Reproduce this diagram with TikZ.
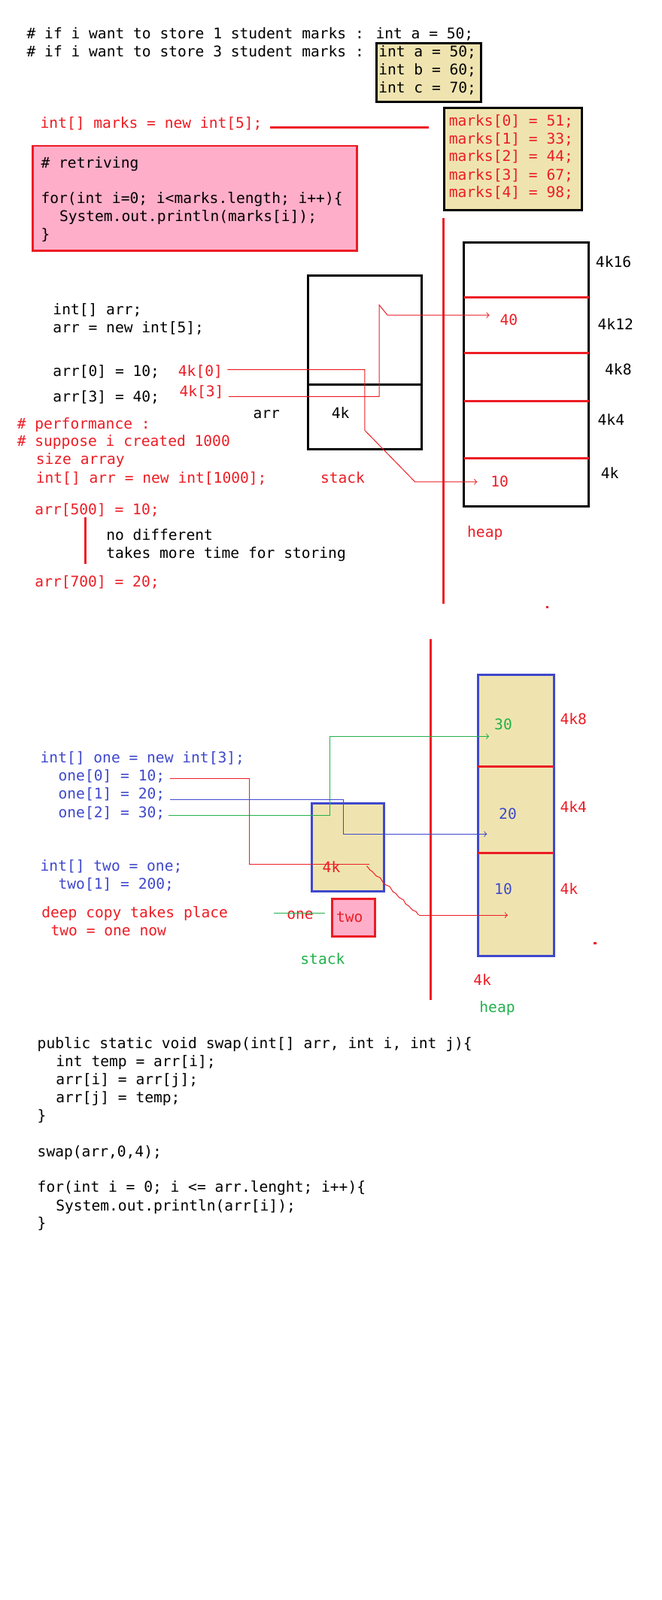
\documentclass[tikz,border=0pt]{standalone}
\usepackage{fontspec}
\newfontfamily\codefont{DejaVu Sans Mono}
\usepackage{tikz}
\usetikzlibrary{arrows}
\usetikzlibrary{calc}
\usetikzlibrary{decorations.pathmorphing}

\definecolor{paintred}{HTML}{ED1C24}
\definecolor{painttan}{HTML}{EFE4B0}
\definecolor{paintpink}{HTML}{FFAEC9}
\definecolor{paintblue}{HTML}{3F48CC}
\definecolor{paintgreen}{HTML}{22B14C}

\begin{document}
\begin{tikzpicture}[x=0.678pt, y=-0.672pt,
		code/.style={anchor=base west, inner sep=0pt, font=\codefont\fontsize{9.8}{11.8}\selectfont},
		wall/.style={line width=1.5pt},
		wire/.style={line width=0.5pt},
		redline/.style={paintred, line width=1.5pt}]

		% page
		\fill[white] (0,0) rectangle (649,1584);
		\useasboundingbox (0,0) rectangle (649,1584);

		% ---------- variables vs array ----------
		\node[code] (one) at (26,38.5) {\# if i want to store 1 student marks : int a = 50;};
		\node[code] (three) at (26,56.4) {\# if i want to store 3 student marks :};
		\draw[wall, fill=painttan] (369,42.7) rectangle (472,100.5);
		\node[code] (va) at (371,56.4) {int a = 50;};
		\node[code] (vb) at (371,74) {int b = 60;};
		\node[code] (vc) at (371,91.8) {int c = 70;};

		\node[code, paintred] (marks) at (39.3,127) {int[] marks = new int[5];};
		\draw[wall, fill=painttan] (436,106.7) rectangle (570.6,208.4);
		\foreach \i/\y/\v in {0/124.6/51, 1/142.2/33, 2/160/44, 3/177.9/67, 4/195.5/98}
			\node[code, paintred] (m\i) at (440,\y) {marks[\i] = \v;};
		\coordinate (marksend) at (420.5,126);
		\draw[redline] ([xshift=5pt]marks.east |- marksend) -- (marksend);

		% retriving
		\draw[redline, fill=paintpink] (31.8,144.4) rectangle (350,248.6);
		\node[code] (ret) at (40,166.3) {\# retriving};
		\node[code] (forl) at (40,201.5) {for(int i=0; i<marks.length; i++)\{};
		\node[code] (prnt) at (58,218.9) {System.out.println(marks[i]);};
		\node[code] (endl) at (40,237) {\}};

		% ---------- stack / heap 1 ----------
		\draw[redline] (435,215.8) -- (435,597.4);

		\draw[wall] (302,273) rectangle (413.5,444.6);
		\draw[wall] (302,380.6) -- (413.5,380.6);
		\node[code] (arrlbl) at (248,414.4) {arr};
		\node[code] (arrref) at (325,414.4) {4k};

		\draw[wall] (455,240) rectangle (577.6,501);
		\foreach \y in {294.5, 349.3, 397, 453.5}
			\draw[redline] (455,\y) -- (577.6,\y);
		\foreach \n/\x/\y/\t in {a/584/264.3/4k16, b/586/326.3/4k12, c/593/371/4k8, d/586/421.3/4k4, e/589/474/4k}
			\node[code] (addr\n) at (\x,\y) {\t};
		\node[code, paintred] (forty) at (490,322) {40};
		\node[code, paintred] (ten) at (481,482) {10};

		\node[code] (decl) at (51.7,311.4) {int[] arr;};
		\node[code] (alloc) at (51.7,329.5) {arr = new int[5];};
		\node[code] (set0) at (51.7,372.2) {arr[0] = 10;};
		\node[code, paintred] (k0) at (174.5,372.2) {4k[0]};
		\node[code] (set3) at (51.7,397.7) {arr[3] = 40;};
		\node[code, paintred] (k3) at (175.7,393) {4k[3]};

		% pointers
		\coordinate (p0) at (357.7,366);
		\coordinate (q0) at (357.7,426);
		\coordinate (r0) at (407,477);
		\draw[wire, paintred, ->] ([xshift=3pt]k0.east |- p0) -- (p0) -- (q0) -- (r0) -- (468,477);
		\coordinate (p3) at (372,392.5);
		\coordinate (q3) at (372,302);
		\coordinate (r3) at (380,312);
		\draw[wire, paintred, ->] ([xshift=3pt]k3.east |- p3) -- (p3) -- (q3) -- (r3) -- (480,312);

		% performance
		\node[code, paintred] (perf) at (16.5,425) {\# performance :};
		\node[code, paintred] (supp) at (16.5,442) {\# suppose i created 1000};
		\node[code, paintred] (size) at (35,460) {size array};
		\node[code, paintred] (big) at (35,478.4) {int[] arr = new int[1000];};
		\node[code, paintred] (stk) at (314,478.4) {stack};
		\node[code, paintred] (hp) at (458,532.2) {heap};
		\node[code, paintred] (a500) at (34,509.5) {arr[500] = 10;};
		\node[code, paintred] (a700) at (34,581) {arr[700] = 20;};
		\draw[redline] (84,512) -- (84,558);
		\node[code] (nodiff) at (104,534.7) {no different};
		\node[code] (takes) at (104,552.8) {takes more time for storing};
		\fill[paintred] (535.7,600) rectangle (537.7,602);

		% ---------- stack / heap 2 ----------
		\draw[redline] (422.6,632.7) -- (422.6,990);

		\draw[wall, paintblue, fill=painttan] (468.5,667.9) rectangle (543,946.2);
		\foreach \y in {758.7, 844.3}
			\draw[redline] (468.5,\y) -- (543,\y);
		\node[code, paintgreen] (v30) at (484.6,722.5) {30};
		\node[code, paintblue] (v20) at (489,811.3) {20};
		\node[code, paintblue] (v10) at (484.6,885.7) {10};
		\foreach \n/\y/\t in {a/717.5/4k8, b/803.9/4k4, c/885.7/4k}
			\node[code, paintred] (haddr\n) at (549,\y) {\t};
		\node[code, paintred] (hbase) at (464,975.6) {4k};
		\node[code, paintgreen] (hp2) at (470,1002.4) {heap};

		\draw[wall, paintblue, fill=painttan] (306,795.7) rectangle (377,882.5);
		\node[code, paintred] (ref2) at (316,864) {4k};
		\draw[redline, fill=paintpink] (325.4,889.5) rectangle (368,927.4);
		\node[code, paintred] (two) at (329.6,913) {two};
		\node[code, paintred] (oneold) at (281,909.8) {one};
		\draw[wire, paintgreen] (268.8,904.3) -- (318.4,904.3);
		\node[code, paintgreen] (stk2) at (294.4,954.7) {stack};
		\fill[paintred] (582,933) rectangle (585,935);

		\node[code, paintblue] (newone) at (39.3,755.5) {int[] one = new int[3];};
		\node[code, paintblue] (o0) at (57,773.3) {one[0] = 10;};
		\node[code, paintblue] (o1) at (57,791) {one[1] = 20;};
		\node[code, paintblue] (o2) at (57,809.4) {one[2] = 30;};
		\node[code, paintblue] (newtwo) at (39.3,862.2) {int[] two = one;};
		\node[code, paintblue] (t1) at (57,880.3) {two[1] = 200;};
		\node[code, paintred] (deep) at (40.5,908.6) {deep copy takes place};
		\node[code, paintred] (now) at (49.6,926.7) {two = one now};

		% pointers
		\draw[wire, paintgreen, ->] ([xshift=2pt]o2.east |- 0,807.6) -- (323.4,807.6) -- (323.4,729) -- (479.7,729);
		\draw[wire, paintblue, ->] ([xshift=3pt]o1.east |- 0,791.4) -- (337,791.4) -- (337,825.7) -- (477.6,825.7);
		\draw[wire, paintred] ([xshift=3pt]o0.east |- 0,770.9) -- (244.8,770.9) -- (244.8,855.6) -- (362.6,855.6);
		\draw[wire, paintred, decorate, decoration={random steps, segment length=3pt, amplitude=0.6pt}] (359.7,857.2) -- (410.6,906);
		\draw[wire, paintred, ->] (410.6,906) -- (498,906);

		% ---------- swap ----------
		\node[code] (sw1) at (36.4,1038.3) {public static void swap(int[] arr, int i, int j)\{};
		\node[code] (sw2) at (54.6,1055.7) {int temp = arr[i];};
		\node[code] (sw3) at (54.6,1073.8) {arr[i] = arr[j];};
		\node[code] (sw4) at (54.6,1091.7) {arr[j] = temp;};
		\node[code] (sw5) at (36.4,1109.5) {\}};
		\node[code] (call) at (36.4,1145) {swap(arr,0,4);};
		\node[code] (lp1) at (36.4,1180.5) {for(int i = 0; i <= arr.lenght; i++)\{};
		\node[code] (lp2) at (54.6,1198.9) {System.out.println(arr[i]);};
		\node[code] (lp3) at (36.4,1216.2) {\}};
	\end{tikzpicture}
\end{document}
